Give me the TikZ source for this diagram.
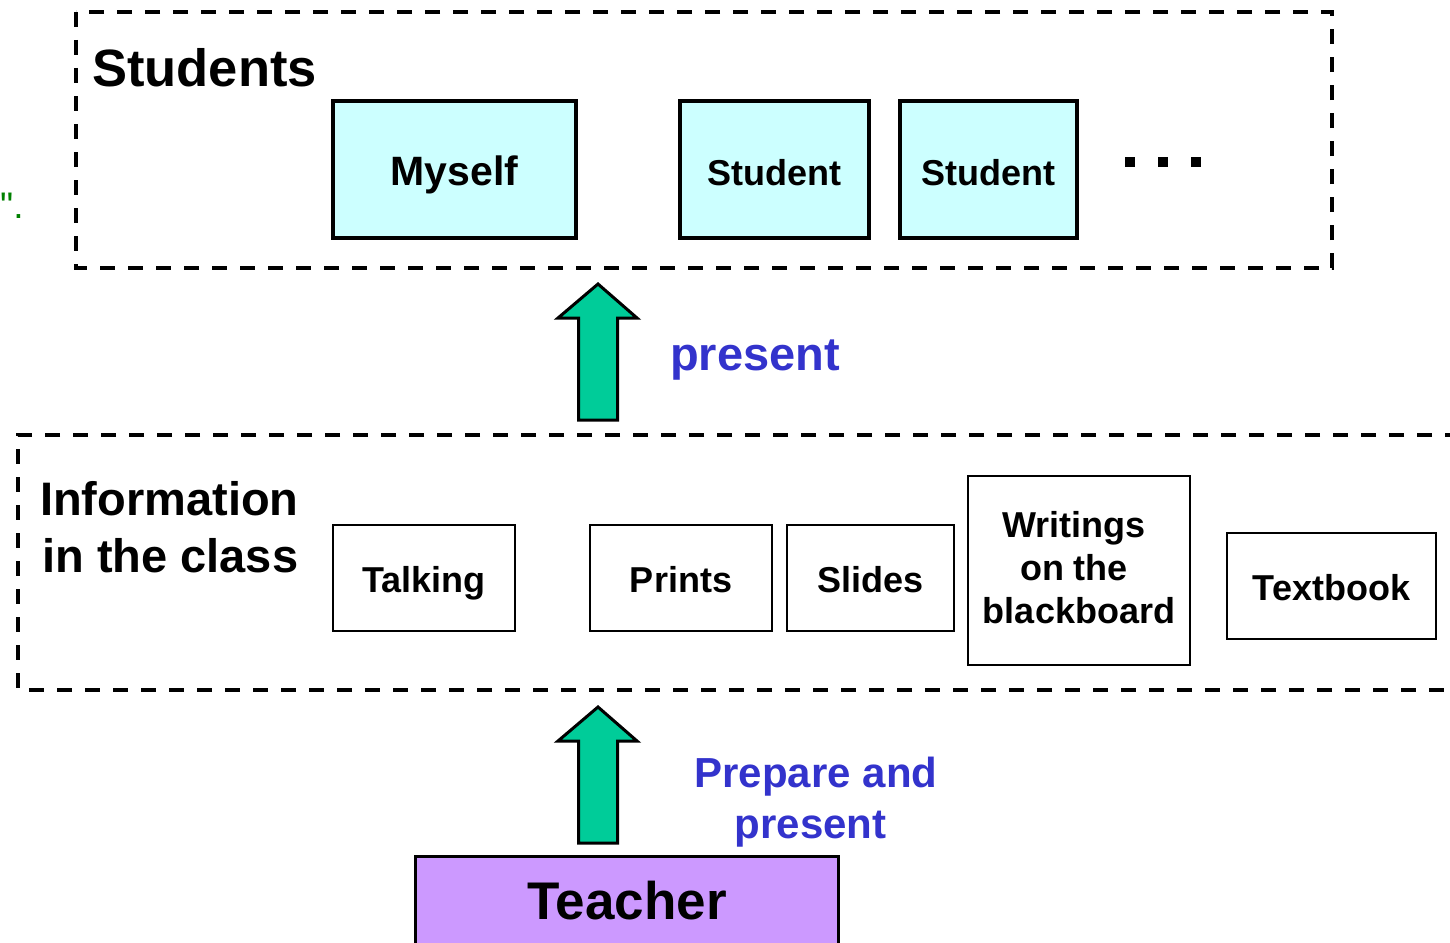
\documentclass[tikz,border=0pt]{standalone}
\usepackage{fontspec}
\setmainfont{Liberation Sans}
\definecolor{boxcyan}{HTML}{CCFFFF}
\definecolor{arrowgreen}{HTML}{00CC99}
\definecolor{teachpurple}{HTML}{CC99FF}
\definecolor{labelblue}{HTML}{3333CC}
\definecolor{markgreen}{HTML}{008000}
\begin{document}
\begin{tikzpicture}[x=1pt,y=-1pt,
  groupframe/.style={draw, line width=3.5pt, dash pattern=on 15pt off 13pt},
  studentbox/.style={draw, line width=4pt, fill=boxcyan, inner sep=0pt, align=center,
    text height=32pt, text depth=0pt, font=\fontsize{36}{44}\selectfont\bfseries},
  infobox/.style={draw, line width=2pt, fill=white, inner sep=0pt, align=center,
    text height=28pt, text depth=0pt, font=\fontsize{36}{44}\selectfont\bfseries},
  heading/.style={anchor=base west, inner sep=0pt},
  bluelabel/.style={text=labelblue, align=center, inner sep=0pt,
    font=\fontsize{42}{51}\selectfont\bfseries},
  dotmark/.style={fill=black, minimum size=10pt, inner sep=0pt},
  uparrow/.pic={\draw[fill=arrowgreen, line width=3pt, line join=miter]
    (-19.5,0) -- (-19.5,-102) -- (-40,-102) -- (0,-136) -- (39,-102)
    -- (19.5,-102) -- (19.5,0) -- cycle;}
]
\useasboundingbox (0,0) rectangle (1450,942);

% stray mark at the left margin
\node[heading, text=markgreen, font=\fontsize{37}{40}\selectfont] (mark) at (0,218) {\textquotedbl.};

% students group
\draw[groupframe] (76,12) rectangle (1332,268);
\node[heading, font=\fontsize{52.5}{60}\selectfont\bfseries] (studentsttl) at (92,86) {Students};
\node[studentbox, minimum width=243pt, minimum height=137pt, text height=31pt,
  font=\fontsize{41}{48}\selectfont\bfseries] (myself) at (454.5,169.5) {Myself};
\node[studentbox, minimum width=189pt, minimum height=137pt] (student1) at (774.5,169.5) {Student};
\node[studentbox, minimum width=177pt, minimum height=137pt] (student2) at (988.5,169.5) {Student};
\node[dotmark] (dot1) at (1130,162) {};
\node[dotmark] (dot2) at (1163,162) {};
\node[dotmark] (dot3) at (1196,162) {};

% present arrow
\coordinate (arrowA) at (598,420);
\pic at (arrowA) {uparrow};
\node[bluelabel, anchor=base west, font=\fontsize{47}{56}\selectfont\bfseries] (presentlbl) at (670,370) {present};

% information group, its right side runs off the page
\draw[groupframe] (1460,435) -- (18,435) -- (18,690) -- (1460,690);
\node[heading, font=\fontsize{47}{57}\selectfont\bfseries] (info1) at (40,515) {Information};
\node[heading, font=\fontsize{47}{57}\selectfont\bfseries] (info2) at (42,572) {in the class};
\node[infobox, minimum width=182pt, minimum height=106pt] (talking) at (424,578) {Talking};
\node[infobox, minimum width=182pt, minimum height=106pt] (prints) at (681,578) {Prints};
\node[infobox, minimum width=167pt, minimum height=106pt] (slides) at (870.5,578) {Slides};
\node[draw, line width=2pt, fill=white, minimum width=222pt, minimum height=189pt] (writings) at (1079,570.5) {};
\node[align=center, inner sep=0pt, anchor=base, font=\fontsize{36}{43}\selectfont\bfseries]
  (writingstxt) at (1079,623) {Writings\kern10pt\\on the\kern10pt\\blackboard};
\node[infobox, minimum width=209pt, minimum height=106pt] (textbook) at (1331.5,586) {Textbook};

% prepare arrow
\coordinate (arrowB) at (598,843);
\pic at (arrowB) {uparrow};
\node[bluelabel, anchor=base] (preparelbl) at (816,838) {Prepare and\\present\kern11pt};

% teacher
\node[draw, line width=3pt, fill=teachpurple, minimum width=423pt, minimum height=100pt,
  inner sep=0pt, anchor=north] (teacher) at (626.5,855) {};
\node[font=\fontsize{53}{60}\selectfont\bfseries, inner sep=0pt] (teachertxt) at (627,901) {Teacher};
\end{tikzpicture}
\end{document}
